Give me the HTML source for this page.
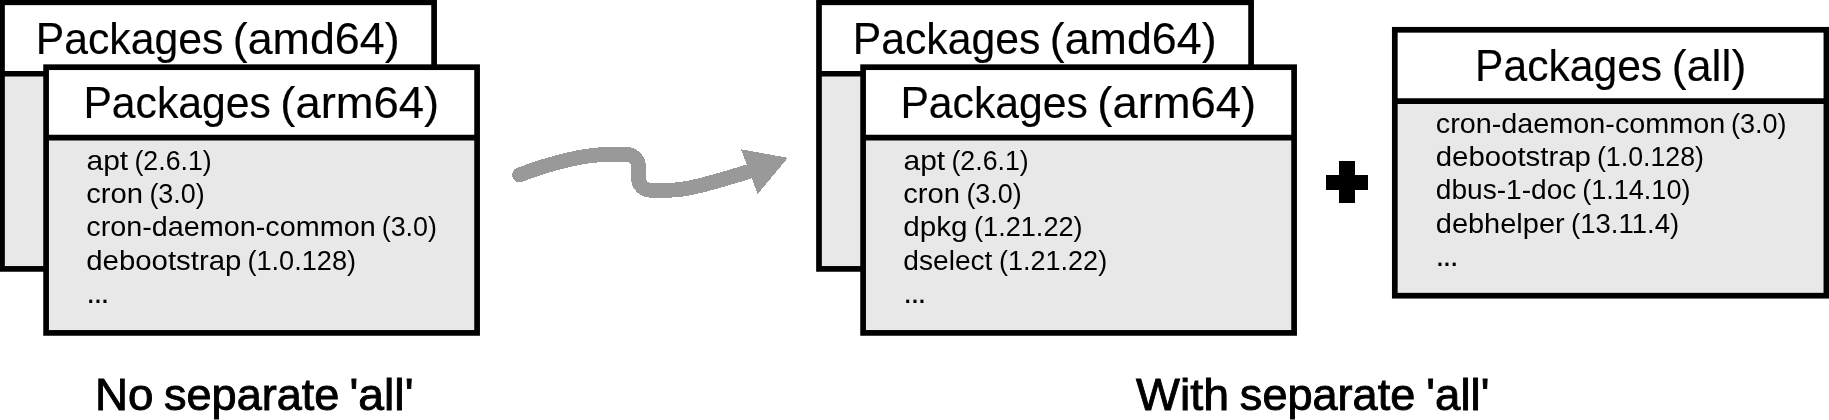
<!DOCTYPE html>
<html><head><meta charset="utf-8">
<style>
html,body{margin:0;padding:0;background:#fff;width:1829px;height:420px;overflow:hidden}
svg{display:block;will-change:transform}
text{font-family:"Liberation Sans",sans-serif;fill:#000}
.it{}
.tt{stroke:#000;stroke-width:0.15px}
.lb{stroke:#000;stroke-width:0.9px}
</style></head><body>
<svg width="1829" height="420" viewBox="0 0 1829 420">
<rect x="2.0" y="2.3" width="432.10" height="266.60" fill="#e8e8e8"/><rect x="2.0" y="2.3" width="432.10" height="71.45" fill="#fff"/><rect x="2.0" y="2.3" width="432.10" height="266.60" fill="none" stroke="#000" stroke-width="5.7"/><line x1="2.0" y1="73.75" x2="434.1" y2="73.75" stroke="#000" stroke-width="5.7"/>
<text class="tt" x="35.69" y="54.00" font-size="44" textLength="187.63" lengthAdjust="spacingAndGlyphs">Packages</text><text class="tt" x="232.72" y="54.00" font-size="44" textLength="166.85" lengthAdjust="spacingAndGlyphs">(amd64)</text>
<rect x="46.1" y="67.2" width="431.00" height="265.70" fill="#e8e8e8"/><rect x="46.1" y="67.2" width="431.00" height="70.50" fill="#fff"/><rect x="46.1" y="67.2" width="431.00" height="265.70" fill="none" stroke="#000" stroke-width="5.7"/><line x1="46.1" y1="137.7" x2="477.1" y2="137.7" stroke="#000" stroke-width="5.7"/>
<text class="tt" x="83.39" y="117.90" font-size="44" textLength="187.53" lengthAdjust="spacingAndGlyphs">Packages</text><text class="tt" x="280.28" y="117.90" font-size="44" textLength="158.92" lengthAdjust="spacingAndGlyphs">(arm64)</text>
<text class="it" x="86.51" y="169.80" font-size="27.5" textLength="41.66" lengthAdjust="spacingAndGlyphs">apt</text><text class="it" x="134.44" y="169.80" font-size="27.5" textLength="77.25" lengthAdjust="spacingAndGlyphs">(2.6.1)</text>
<text class="it" x="86.22" y="203.00" font-size="27.5" textLength="56.84" lengthAdjust="spacingAndGlyphs">cron</text><text class="it" x="149.43" y="203.00" font-size="27.5" textLength="55.28" lengthAdjust="spacingAndGlyphs">(3.0)</text>
<text class="it" x="86.25" y="236.40" font-size="27.5" textLength="289.43" lengthAdjust="spacingAndGlyphs">cron-daemon-common</text><text class="it" x="381.73" y="236.40" font-size="27.5" textLength="55.28" lengthAdjust="spacingAndGlyphs">(3.0)</text>
<text class="it" x="86.25" y="269.70" font-size="27.5" textLength="155.17" lengthAdjust="spacingAndGlyphs">debootstrap</text><text class="it" x="247.41" y="269.70" font-size="27.5" textLength="108.66" lengthAdjust="spacingAndGlyphs">(1.0.128)</text>
<text class="dt" x="86.28" y="303.20" font-size="32" letter-spacing="-1.75">...</text>
<rect x="819.0" y="2.3" width="432.10" height="266.60" fill="#e8e8e8"/><rect x="819.0" y="2.3" width="432.10" height="71.45" fill="#fff"/><rect x="819.0" y="2.3" width="432.10" height="266.60" fill="none" stroke="#000" stroke-width="5.7"/><line x1="819.0" y1="73.75" x2="1251.1" y2="73.75" stroke="#000" stroke-width="5.7"/>
<text class="tt" x="852.69" y="54.00" font-size="44" textLength="187.63" lengthAdjust="spacingAndGlyphs">Packages</text><text class="tt" x="1049.72" y="54.00" font-size="44" textLength="166.85" lengthAdjust="spacingAndGlyphs">(amd64)</text>
<rect x="863.1" y="67.2" width="431.00" height="265.70" fill="#e8e8e8"/><rect x="863.1" y="67.2" width="431.00" height="70.50" fill="#fff"/><rect x="863.1" y="67.2" width="431.00" height="265.70" fill="none" stroke="#000" stroke-width="5.7"/><line x1="863.1" y1="137.7" x2="1294.1" y2="137.7" stroke="#000" stroke-width="5.7"/>
<text class="tt" x="900.39" y="117.90" font-size="44" textLength="187.53" lengthAdjust="spacingAndGlyphs">Packages</text><text class="tt" x="1097.28" y="117.90" font-size="44" textLength="158.92" lengthAdjust="spacingAndGlyphs">(arm64)</text>
<text class="it" x="903.51" y="169.80" font-size="27.5" textLength="41.66" lengthAdjust="spacingAndGlyphs">apt</text><text class="it" x="951.44" y="169.80" font-size="27.5" textLength="77.25" lengthAdjust="spacingAndGlyphs">(2.6.1)</text>
<text class="it" x="903.22" y="203.00" font-size="27.5" textLength="56.84" lengthAdjust="spacingAndGlyphs">cron</text><text class="it" x="966.43" y="203.00" font-size="27.5" textLength="55.28" lengthAdjust="spacingAndGlyphs">(3.0)</text>
<text class="it" x="903.23" y="236.40" font-size="27.5" textLength="64.37" lengthAdjust="spacingAndGlyphs">dpkg</text><text class="it" x="974.01" y="236.40" font-size="27.5" textLength="108.66" lengthAdjust="spacingAndGlyphs">(1.21.22)</text>
<text class="it" x="903.32" y="269.70" font-size="27.5" textLength="89.13" lengthAdjust="spacingAndGlyphs">dselect</text><text class="it" x="999.02" y="269.70" font-size="27.5" textLength="108.14" lengthAdjust="spacingAndGlyphs">(1.21.22)</text>
<text class="dt" x="903.28" y="303.20" font-size="32" letter-spacing="-1.75">...</text>
<rect x="1394.8" y="29.8" width="431.60" height="265.90" fill="#e8e8e8"/><rect x="1394.8" y="29.8" width="431.60" height="71.40" fill="#fff"/><rect x="1394.8" y="29.8" width="431.60" height="265.90" fill="none" stroke="#000" stroke-width="5.7"/><line x1="1394.8" y1="101.2" x2="1826.4" y2="101.2" stroke="#000" stroke-width="5.7"/>
<text class="tt" x="1475.10" y="80.50" font-size="44" textLength="187.01" lengthAdjust="spacingAndGlyphs">Packages</text><text class="tt" x="1671.83" y="80.50" font-size="44" textLength="74.46" lengthAdjust="spacingAndGlyphs">(all)</text>
<text class="it" x="1435.75" y="132.60" font-size="27.5" textLength="289.54" lengthAdjust="spacingAndGlyphs">cron-daemon-common</text><text class="it" x="1731.02" y="132.60" font-size="27.5" textLength="55.61" lengthAdjust="spacingAndGlyphs">(3.0)</text>
<text class="it" x="1435.75" y="166.00" font-size="27.5" textLength="155.17" lengthAdjust="spacingAndGlyphs">debootstrap</text><text class="it" x="1596.94" y="166.00" font-size="27.5" textLength="107.01" lengthAdjust="spacingAndGlyphs">(1.0.128)</text>
<text class="it" x="1435.82" y="199.40" font-size="27.5" textLength="140.51" lengthAdjust="spacingAndGlyphs">dbus-1-doc</text><text class="it" x="1582.22" y="199.40" font-size="27.5" textLength="108.25" lengthAdjust="spacingAndGlyphs">(1.14.10)</text>
<text class="it" x="1435.77" y="232.80" font-size="27.5" textLength="128.88" lengthAdjust="spacingAndGlyphs">debhelper</text><text class="it" x="1571.09" y="232.80" font-size="27.5" textLength="108.00" lengthAdjust="spacingAndGlyphs">(13.11.4)</text>
<text class="dt" x="1435.38" y="266.00" font-size="32" letter-spacing="-1.75">...</text>
<path d="M519.5 174.8 C552 162.8 582 154.5 608 154.5 L626.5 154.5 A12 12 0 0 1 638.5 166.5 L638.5 178 A12 12 0 0 0 650.5 190.3 L668 190.3 C690 190.3 720 180 749 171.6" fill="none" stroke="#999" stroke-width="14.8" stroke-linecap="round" shape-rendering="crispEdges"/><polygon points="741,149.3 787.9,157.8 757.6,194" fill="#999" shape-rendering="crispEdges"/>
<rect x="1339" y="161" width="16" height="42" fill="#000"/><rect x="1326" y="175" width="42" height="15" fill="#000"/>
<text class="lb" x="94.94" y="409.90" font-size="44" textLength="58.42" lengthAdjust="spacingAndGlyphs">No</text><text class="lb" x="163.97" y="409.90" font-size="44" textLength="175.40" lengthAdjust="spacingAndGlyphs">separate</text><text class="lb" x="349.51" y="409.90" font-size="44" textLength="64.00" lengthAdjust="spacingAndGlyphs">&#39;all&#39;</text>
<text class="lb" x="1136.10" y="409.90" font-size="44" textLength="92.97" lengthAdjust="spacingAndGlyphs">With</text><text class="lb" x="1239.87" y="409.90" font-size="44" textLength="175.40" lengthAdjust="spacingAndGlyphs">separate</text><text class="lb" x="1426.35" y="409.90" font-size="44" textLength="63.02" lengthAdjust="spacingAndGlyphs">&#39;all&#39;</text>
</svg>
</body></html>
